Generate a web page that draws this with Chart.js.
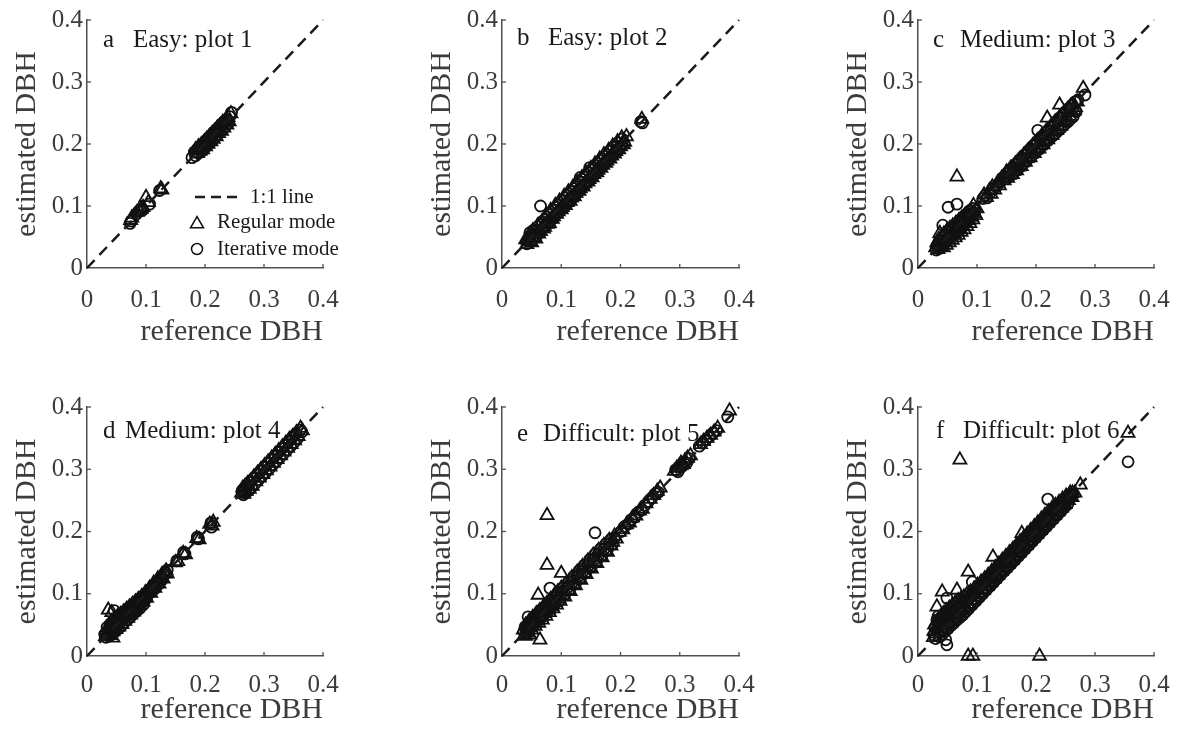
<!DOCTYPE html>
<html><head><meta charset="utf-8">
<script src="https://cdn.jsdelivr.net/npm/chart.js"></script>
<style>
html,body{margin:0;padding:0;background:#fff;width:1179px;height:730px;overflow:hidden;position:relative;}
canvas{position:absolute;}
</style></head><body>
<script>
// ---------- labels ----------
const tickValues = [0, 0.1, 0.2, 0.3, 0.4];
const tickLabels = ['0', '0.1', '0.2', '0.3', '0.4'];
const panelLetters = ['a', 'b', 'c', 'd', 'e', 'f'];
const panelTitles = ['Easy: plot 1', 'Easy: plot 2', 'Medium: plot 3', 'Medium: plot 4', 'Difficult: plot 5', 'Difficult: plot 6'];
const legendLabels = ['1:1 line', 'Regular mode', 'Iterative mode'];
const xTitle = 'reference DBH';
const yTitle = 'estimated DBH';
const oneToOne = [[0, 0], [0.4, 0.4]];

// ---------- data: [reference, estimated] ----------
const regularA = [[0.074,0.077],[0.076,0.081],[0.085,0.090],[0.088,0.093],[0.092,0.095],[0.095,0.098],[0.100,0.114],[0.104,0.106],[0.125,0.128],[0.127,0.126],
[0.184,0.191],[0.187,0.185],[0.189,0.196],[0.192,0.189],[0.194,0.199],[0.196,0.191],[0.199,0.204],[0.201,0.196],[0.203,0.208],[0.205,0.200],[0.208,0.213],[0.210,0.204],[0.212,0.217],[0.214,0.208],[0.217,0.221],[0.219,0.212],[0.221,0.226],[0.223,0.217],[0.226,0.230],[0.228,0.221],[0.230,0.235],[0.232,0.226],[0.235,0.239],[0.237,0.231],[0.239,0.243],[0.241,0.236],[0.244,0.249]];
const iterativeA = [[0.073,0.072],[0.075,0.076],[0.084,0.087],[0.087,0.091],[0.090,0.094],[0.094,0.093],[0.106,0.103],[0.123,0.125],
[0.178,0.178],[0.182,0.187],[0.184,0.181],[0.187,0.192],[0.189,0.185],[0.191,0.195],[0.194,0.188],[0.196,0.200],[0.198,0.192],[0.201,0.205],[0.203,0.197],[0.205,0.209],[0.207,0.201],[0.210,0.214],[0.212,0.205],[0.214,0.218],[0.216,0.210],[0.219,0.223],[0.221,0.214],[0.223,0.227],[0.225,0.219],[0.228,0.232],[0.230,0.223],[0.232,0.236],[0.234,0.228],[0.237,0.240],[0.239,0.233],[0.242,0.244],[0.245,0.251]];

const regularB = [[0.040,0.046],[0.042,0.038],[0.045,0.052],[0.047,0.043],[0.050,0.041],[0.052,0.060],[0.055,0.050],[0.057,0.047],[0.060,0.068],[0.062,0.055],[0.065,0.059],[0.067,0.074],[0.070,0.063],[0.072,0.066],[0.075,0.085],[0.077,0.071],[0.080,0.072],[0.082,0.093],[0.085,0.079],[0.087,0.083],[0.090,0.101],[0.092,0.087],[0.095,0.091],[0.097,0.108],[0.100,0.094],[0.102,0.098],[0.105,0.116],[0.107,0.101],[0.110,0.106],[0.112,0.123],[0.115,0.108],[0.117,0.113],[0.120,0.131],[0.122,0.115],[0.125,0.121],[0.127,0.138],[0.130,0.124],[0.132,0.128],[0.135,0.146],[0.137,0.131],[0.140,0.136],[0.142,0.153],[0.145,0.139],[0.147,0.143],[0.150,0.161],[0.152,0.146],[0.155,0.151],[0.157,0.168],[0.160,0.154],[0.162,0.158],[0.165,0.176],[0.167,0.161],[0.170,0.166],[0.172,0.183],[0.175,0.169],[0.177,0.173],[0.180,0.190],[0.182,0.176],[0.185,0.181],[0.187,0.197],[0.190,0.184],[0.192,0.188],[0.195,0.204],[0.197,0.191],[0.200,0.196],[0.202,0.210],[0.205,0.199],[0.207,0.203],[0.210,0.212],[0.236,0.240]];
const iterativeB = [[0.042,0.039],[0.044,0.045],[0.047,0.057],[0.048,0.050],[0.051,0.046],[0.053,0.061],[0.056,0.053],[0.058,0.051],[0.061,0.067],[0.063,0.057],[0.065,0.100],[0.066,0.062],[0.068,0.075],[0.071,0.066],[0.073,0.069],[0.076,0.082],[0.078,0.072],[0.081,0.076],[0.083,0.090],[0.086,0.080],[0.088,0.083],[0.091,0.098],[0.093,0.088],[0.096,0.090],[0.098,0.105],[0.101,0.096],[0.103,0.099],[0.106,0.113],[0.108,0.103],[0.111,0.105],[0.113,0.120],[0.116,0.111],[0.118,0.114],[0.121,0.128],[0.123,0.118],[0.126,0.120],[0.128,0.135],[0.131,0.126],[0.132,0.146],[0.133,0.128],[0.136,0.143],[0.138,0.133],[0.141,0.136],[0.143,0.150],[0.146,0.141],[0.148,0.162],[0.149,0.144],[0.151,0.158],[0.153,0.148],[0.156,0.151],[0.158,0.165],[0.161,0.156],[0.163,0.159],[0.166,0.173],[0.168,0.163],[0.171,0.166],[0.173,0.180],[0.176,0.171],[0.178,0.174],[0.181,0.188],[0.183,0.178],[0.186,0.181],[0.188,0.195],[0.191,0.186],[0.193,0.189],[0.196,0.202],[0.198,0.193],[0.201,0.197],[0.203,0.208],[0.206,0.201],[0.234,0.236],[0.237,0.234]];

const regularC = [[0.030,0.033],[0.032,0.041],[0.034,0.030],[0.035,0.046],[0.037,0.056],[0.038,0.035],[0.040,0.050],[0.041,0.040],[0.043,0.033],[0.044,0.055],[0.046,0.043],[0.048,0.037],[0.049,0.060],[0.051,0.048],[0.053,0.041],[0.054,0.064],[0.056,0.052],[0.058,0.045],[0.059,0.068],[0.061,0.056],[0.063,0.049],[0.064,0.072],[0.066,0.147],[0.066,0.060],[0.068,0.053],[0.069,0.076],[0.071,0.064],[0.073,0.058],[0.074,0.080],[0.076,0.068],[0.078,0.062],[0.079,0.084],[0.081,0.072],[0.083,0.067],[0.084,0.088],[0.086,0.077],[0.088,0.072],[0.089,0.092],[0.091,0.082],[0.093,0.078],[0.094,0.101],[0.096,0.088],[0.098,0.085],[0.100,0.096],
[0.112,0.118],[0.116,0.114],[0.121,0.125],[0.124,0.119],[0.126,0.131],[0.130,0.126],[0.135,0.138],[0.138,0.133],[0.142,0.145],[0.146,0.141],
[0.150,0.155],[0.152,0.145],[0.155,0.150],[0.157,0.161],[0.160,0.151],[0.162,0.156],[0.165,0.168],[0.167,0.157],[0.170,0.163],[0.172,0.175],[0.175,0.164],[0.177,0.170],[0.180,0.183],[0.182,0.171],[0.185,0.177],[0.187,0.190],[0.190,0.178],[0.192,0.184],[0.195,0.198],[0.197,0.185],[0.200,0.191],[0.202,0.205],[0.205,0.192],[0.207,0.198],[0.210,0.213],[0.212,0.199],[0.215,0.205],[0.217,0.220],[0.219,0.242],[0.220,0.207],[0.222,0.213],[0.225,0.227],[0.227,0.214],[0.230,0.220],[0.232,0.235],[0.235,0.222],[0.237,0.228],[0.240,0.263],[0.240,0.242],[0.242,0.229],[0.245,0.235],[0.247,0.249],[0.250,0.237],[0.252,0.243],[0.255,0.256],[0.257,0.245],[0.260,0.251],[0.262,0.263],[0.265,0.254],[0.267,0.259],[0.270,0.268],[0.280,0.290]];
const iterativeC = [[0.031,0.029],[0.033,0.036],[0.035,0.031],[0.036,0.043],[0.038,0.034],[0.040,0.038],[0.042,0.069],[0.042,0.049],[0.044,0.040],[0.046,0.044],[0.047,0.054],[0.049,0.044],[0.051,0.098],[0.051,0.048],[0.052,0.059],[0.054,0.049],[0.056,0.053],[0.057,0.064],[0.059,0.054],[0.061,0.057],[0.062,0.069],[0.064,0.058],[0.066,0.103],[0.066,0.062],[0.067,0.073],[0.069,0.063],[0.071,0.066],[0.072,0.078],[0.074,0.067],[0.076,0.071],[0.077,0.083],[0.079,0.072],[0.081,0.075],[0.082,0.087],[0.084,0.077],[0.086,0.080],[0.087,0.092],[0.089,0.082],[0.091,0.086],[0.093,0.096],[0.095,0.089],[0.097,0.093],
[0.110,0.112],[0.114,0.117],[0.117,0.113],[0.122,0.121],[0.128,0.129],[0.133,0.131],[0.139,0.138],[0.144,0.146],[0.148,0.147],
[0.151,0.153],[0.153,0.146],[0.156,0.158],[0.158,0.150],[0.161,0.163],[0.163,0.154],[0.166,0.168],[0.168,0.159],[0.171,0.173],[0.173,0.163],[0.176,0.178],[0.178,0.168],[0.181,0.183],[0.183,0.172],[0.186,0.188],[0.188,0.177],[0.191,0.193],[0.193,0.181],[0.196,0.198],[0.198,0.186],[0.201,0.203],[0.203,0.222],[0.203,0.190],[0.206,0.208],[0.208,0.195],[0.211,0.213],[0.213,0.199],[0.216,0.218],[0.218,0.204],[0.221,0.223],[0.223,0.208],[0.226,0.228],[0.228,0.213],[0.231,0.233],[0.233,0.217],[0.236,0.238],[0.238,0.222],[0.241,0.243],[0.243,0.226],[0.246,0.248],[0.248,0.231],[0.251,0.253],[0.253,0.235],[0.256,0.258],[0.258,0.240],[0.261,0.263],[0.263,0.244],[0.266,0.268],[0.268,0.252],[0.271,0.271],[0.283,0.279]];

const regularD = [[0.031,0.031],[0.033,0.042],[0.035,0.036],[0.036,0.074],[0.037,0.049],[0.039,0.033],[0.040,0.045],[0.042,0.070],[0.042,0.055],[0.044,0.029],[0.044,0.039],[0.046,0.050],[0.047,0.061],[0.049,0.043],[0.050,0.055],[0.052,0.064],[0.054,0.047],[0.055,0.058],[0.057,0.067],[0.059,0.051],[0.060,0.062],[0.062,0.071],[0.064,0.056],[0.065,0.066],[0.067,0.075],[0.069,0.061],[0.070,0.070],[0.072,0.079],[0.074,0.066],[0.075,0.075],[0.077,0.083],[0.079,0.071],[0.080,0.079],[0.082,0.087],[0.084,0.076],[0.085,0.084],[0.087,0.091],[0.089,0.081],[0.091,0.089],[0.093,0.096],[0.095,0.087],[0.097,0.095],[0.099,0.102],[0.101,0.093],[0.104,0.103],[0.106,0.109],[0.108,0.101],[0.111,0.111],[0.113,0.117],[0.115,0.109],[0.118,0.119],[0.120,0.124],[0.122,0.116],[0.125,0.126],[0.127,0.131],[0.129,0.124],[0.132,0.133],[0.134,0.137],[0.136,0.132],
[0.150,0.150],[0.154,0.152],[0.163,0.165],[0.167,0.163],[0.186,0.189],[0.190,0.187],[0.208,0.212],[0.212,0.209],[0.214,0.215],
[0.262,0.262],[0.264,0.270],[0.266,0.260],[0.268,0.273],[0.270,0.265],[0.272,0.277],[0.275,0.268],[0.277,0.281],[0.280,0.273],[0.283,0.288],[0.286,0.280],[0.289,0.294],[0.292,0.286],[0.295,0.300],[0.298,0.292],[0.301,0.306],[0.304,0.298],[0.307,0.312],[0.310,0.304],[0.313,0.318],[0.316,0.310],[0.319,0.324],[0.322,0.316],[0.325,0.330],[0.328,0.322],[0.331,0.336],[0.334,0.328],[0.337,0.342],[0.340,0.334],[0.343,0.348],[0.346,0.340],[0.349,0.353],[0.352,0.346],[0.355,0.359],[0.358,0.353],[0.362,0.366],[0.365,0.362]];
const iterativeD = [[0.030,0.035],[0.032,0.030],[0.034,0.046],[0.036,0.039],[0.038,0.032],[0.039,0.051],[0.041,0.042],[0.043,0.036],[0.044,0.056],[0.046,0.073],[0.046,0.046],[0.048,0.040],[0.049,0.060],[0.051,0.050],[0.053,0.044],[0.054,0.064],[0.056,0.054],[0.058,0.048],[0.059,0.068],[0.061,0.058],[0.063,0.053],[0.064,0.072],[0.066,0.063],[0.068,0.058],[0.069,0.076],[0.071,0.067],[0.073,0.062],[0.074,0.080],[0.076,0.071],[0.078,0.067],[0.080,0.084],[0.082,0.076],[0.084,0.072],[0.086,0.089],[0.088,0.081],[0.090,0.077],[0.092,0.094],[0.094,0.086],[0.096,0.083],[0.098,0.099],[0.101,0.093],[0.103,0.099],[0.106,0.106],[0.109,0.103],[0.112,0.111],[0.115,0.108],[0.118,0.118],[0.121,0.115],[0.124,0.125],[0.127,0.122],[0.130,0.131],[0.133,0.134],[0.136,0.138],
[0.152,0.153],[0.164,0.167],[0.166,0.164],[0.187,0.191],[0.189,0.188],[0.210,0.214],[0.211,0.207],
[0.263,0.266],[0.265,0.259],[0.267,0.270],[0.269,0.262],[0.271,0.274],[0.274,0.266],[0.276,0.279],[0.279,0.271],[0.282,0.285],[0.285,0.277],[0.288,0.291],[0.291,0.283],[0.294,0.297],[0.297,0.289],[0.300,0.303],[0.303,0.295],[0.306,0.309],[0.309,0.301],[0.312,0.315],[0.315,0.307],[0.318,0.321],[0.321,0.313],[0.324,0.327],[0.327,0.319],[0.330,0.333],[0.333,0.325],[0.336,0.339],[0.339,0.331],[0.342,0.345],[0.345,0.337],[0.348,0.351],[0.351,0.343],[0.354,0.357],[0.357,0.350],[0.361,0.363],[0.364,0.360]];

const regularE = [[0.076,0.226],[0.076,0.146],[0.100,0.133],[0.061,0.098],[0.040,0.032],[0.064,0.026],[0.047,0.034],
[0.036,0.042],[0.038,0.034],[0.040,0.050],[0.042,0.040],[0.044,0.037],[0.046,0.056],[0.048,0.046],[0.050,0.042],[0.052,0.062],[0.054,0.052],[0.056,0.048],[0.058,0.068],[0.060,0.058],[0.062,0.053],[0.064,0.073],[0.066,0.063],[0.068,0.058],[0.070,0.079],[0.072,0.069],[0.074,0.064],[0.076,0.085],[0.078,0.074],[0.080,0.070],[0.082,0.091],[0.084,0.080],[0.086,0.076],[0.088,0.097],[0.090,0.086],[0.092,0.082],[0.094,0.103],[0.096,0.092],[0.098,0.088],[0.100,0.109],[0.103,0.098],[0.106,0.095],[0.109,0.117],[0.112,0.106],[0.115,0.104],[0.118,0.126],[0.121,0.115],[0.124,0.113],[0.127,0.135],[0.130,0.124],[0.133,0.122],[0.136,0.144],[0.139,0.133],[0.142,0.131],[0.145,0.153],[0.148,0.142],[0.151,0.140],[0.154,0.162],[0.157,0.151],[0.160,0.149],[0.163,0.170],[0.166,0.160],[0.169,0.158],[0.172,0.178],[0.175,0.169],[0.178,0.167],[0.181,0.186],[0.184,0.177],[0.187,0.183],[0.190,0.193],[0.193,0.188],
[0.198,0.199],[0.204,0.203],[0.210,0.211],[0.215,0.214],[0.220,0.222],[0.226,0.225],[0.232,0.233],[0.237,0.236],[0.243,0.245],[0.250,0.252],[0.256,0.258],[0.262,0.265],[0.267,0.270],
[0.291,0.297],[0.295,0.302],[0.299,0.305],[0.302,0.310],[0.306,0.308],[0.309,0.314],[0.313,0.318],[0.318,0.322],
[0.335,0.340],[0.340,0.345],[0.346,0.350],[0.352,0.355],[0.358,0.360],[0.364,0.366],[0.384,0.394]];
const iterativeE = [[0.044,0.063],[0.081,0.109],[0.157,0.198],
[0.037,0.039],[0.039,0.047],[0.041,0.037],[0.043,0.044],[0.045,0.053],[0.047,0.043],[0.049,0.050],[0.051,0.059],[0.053,0.049],[0.055,0.056],[0.057,0.065],[0.059,0.054],[0.061,0.062],[0.063,0.071],[0.065,0.060],[0.067,0.067],[0.069,0.077],[0.071,0.066],[0.073,0.073],[0.075,0.082],[0.077,0.071],[0.079,0.079],[0.081,0.088],[0.083,0.077],[0.085,0.085],[0.087,0.094],[0.089,0.083],[0.091,0.091],[0.094,0.101],[0.097,0.090],[0.100,0.099],[0.103,0.110],[0.106,0.099],[0.109,0.108],[0.112,0.119],[0.115,0.108],[0.118,0.117],[0.121,0.128],[0.124,0.117],[0.127,0.126],[0.130,0.137],[0.133,0.126],[0.136,0.135],[0.139,0.146],[0.142,0.135],[0.145,0.144],[0.148,0.155],[0.151,0.144],[0.154,0.153],[0.157,0.164],[0.160,0.153],[0.163,0.162],[0.166,0.172],[0.169,0.162],[0.172,0.171],[0.175,0.180],[0.178,0.171],[0.181,0.180],[0.184,0.188],[0.187,0.180],[0.190,0.190],
[0.201,0.200],[0.207,0.208],[0.213,0.212],[0.218,0.219],[0.224,0.223],[0.230,0.231],[0.235,0.234],[0.241,0.242],[0.247,0.248],[0.253,0.254],[0.259,0.261],[0.264,0.263],
[0.293,0.299],[0.297,0.296],[0.301,0.303],[0.304,0.305],[0.308,0.311],[0.311,0.309],[0.316,0.317],
[0.333,0.337],[0.338,0.342],[0.344,0.347],[0.350,0.352],[0.356,0.358],[0.362,0.362],[0.381,0.384]];

const regularF = [[0.071,0.315],[0.356,0.358],[0.275,0.275],[0.176,0.197],[0.127,0.159],[0.085,0.135],[0.041,0.103],[0.066,0.106],[0.032,0.079],[0.085,0.000],[0.093,0.000],[0.206,0.000],
[0.026,0.030],[0.027,0.040],[0.028,0.050],[0.031,0.036],[0.032,0.046],[0.033,0.057],[0.036,0.040],[0.037,0.052],[0.038,0.063],[0.041,0.044],[0.042,0.057],[0.043,0.068],[0.046,0.049],[0.047,0.062],[0.048,0.073],[0.051,0.053],[0.052,0.066],[0.053,0.077],[0.056,0.057],[0.057,0.070],[0.058,0.081],[0.061,0.061],[0.062,0.074],[0.063,0.085],[0.066,0.065],[0.067,0.078],[0.068,0.089],[0.071,0.069],[0.072,0.082],[0.073,0.092],[0.076,0.073],[0.077,0.085],[0.078,0.095],[0.081,0.078],[0.082,0.089],[0.083,0.099],[0.087,0.083],[0.088,0.094],[0.089,0.103],[0.093,0.089],[0.094,0.099],[0.095,0.108],[0.099,0.095],[0.100,0.105],[0.101,0.114],[0.105,0.101],[0.106,0.111],[0.107,0.119],[0.111,0.106],[0.112,0.116],[0.113,0.124],[0.117,0.112],[0.118,0.122],[0.119,0.130],[0.123,0.118],[0.124,0.128],[0.125,0.136],[0.129,0.124],[0.130,0.134],[0.131,0.142],[0.135,0.130],[0.136,0.140],[0.137,0.148],[0.141,0.136],[0.142,0.146],[0.143,0.154],[0.147,0.142],[0.148,0.152],[0.149,0.160],[0.153,0.148],[0.154,0.158],[0.155,0.166],[0.159,0.154],[0.160,0.164],[0.161,0.172],[0.165,0.160],[0.166,0.170],[0.167,0.178],[0.171,0.166],[0.172,0.176],[0.173,0.184],[0.177,0.172],[0.178,0.182],[0.179,0.190],[0.183,0.178],[0.184,0.188],[0.185,0.196],[0.189,0.184],[0.190,0.194],[0.191,0.202],[0.195,0.190],[0.196,0.200],[0.197,0.208],[0.201,0.196],[0.202,0.206],[0.203,0.214],[0.207,0.202],[0.208,0.212],[0.209,0.220],[0.213,0.208],[0.214,0.218],[0.215,0.226],[0.219,0.214],[0.220,0.224],[0.221,0.232],[0.225,0.220],[0.226,0.230],[0.227,0.237],[0.231,0.226],[0.232,0.236],[0.233,0.242],[0.237,0.232],[0.238,0.242],[0.239,0.247],[0.243,0.238],[0.244,0.247],[0.245,0.252],[0.249,0.244],[0.250,0.252],[0.251,0.257],[0.255,0.250],[0.256,0.257],[0.258,0.262],[0.261,0.255],[0.262,0.262],[0.266,0.262]];
const iterativeF = [[0.356,0.312],[0.220,0.252],[0.092,0.119],[0.049,0.093],[0.032,0.058],[0.049,0.018],[0.047,0.026],[0.034,0.064],
[0.027,0.033],[0.029,0.045],[0.030,0.028],[0.034,0.038],[0.035,0.050],[0.036,0.031],[0.039,0.042],[0.040,0.055],[0.041,0.035],[0.044,0.047],[0.045,0.060],[0.046,0.040],[0.049,0.051],[0.050,0.064],[0.051,0.044],[0.054,0.055],[0.055,0.068],[0.056,0.049],[0.059,0.059],[0.060,0.072],[0.061,0.053],[0.064,0.063],[0.065,0.076],[0.066,0.058],[0.069,0.067],[0.070,0.080],[0.071,0.062],[0.074,0.071],[0.075,0.083],[0.076,0.066],[0.079,0.075],[0.080,0.087],[0.081,0.071],[0.084,0.080],[0.085,0.091],[0.086,0.076],[0.090,0.086],[0.091,0.097],[0.092,0.082],[0.096,0.092],[0.097,0.103],[0.098,0.088],[0.102,0.098],[0.103,0.109],[0.104,0.094],[0.108,0.104],[0.109,0.115],[0.110,0.100],[0.114,0.110],[0.115,0.121],[0.116,0.106],[0.120,0.116],[0.121,0.127],[0.122,0.112],[0.126,0.122],[0.127,0.133],[0.128,0.118],[0.132,0.128],[0.133,0.139],[0.134,0.124],[0.138,0.134],[0.139,0.145],[0.140,0.130],[0.144,0.140],[0.145,0.151],[0.146,0.136],[0.150,0.146],[0.151,0.157],[0.152,0.142],[0.156,0.152],[0.157,0.163],[0.158,0.148],[0.162,0.158],[0.163,0.169],[0.164,0.154],[0.168,0.164],[0.169,0.175],[0.170,0.160],[0.174,0.170],[0.175,0.181],[0.176,0.166],[0.180,0.176],[0.181,0.187],[0.182,0.172],[0.186,0.182],[0.187,0.193],[0.188,0.178],[0.192,0.188],[0.193,0.199],[0.194,0.184],[0.198,0.194],[0.199,0.205],[0.200,0.190],[0.204,0.200],[0.205,0.210],[0.206,0.196],[0.210,0.206],[0.211,0.216],[0.212,0.202],[0.216,0.212],[0.217,0.222],[0.218,0.208],[0.222,0.218],[0.223,0.228],[0.224,0.214],[0.228,0.224],[0.229,0.233],[0.230,0.220],[0.234,0.230],[0.235,0.239],[0.236,0.226],[0.240,0.236],[0.241,0.244],[0.242,0.232],[0.246,0.242],[0.247,0.250],[0.248,0.238],[0.252,0.248],[0.253,0.255],[0.254,0.244],[0.258,0.254],[0.259,0.260],[0.263,0.259]];

const regularSeries = [regularA, regularB, regularC, regularD, regularE, regularF];
const iterativeSeries = [iterativeA, iterativeB, iterativeC, iterativeD, iterativeE, iterativeF];

// ---------- layout / style (not data) ----------
const layouts = [
  {left: 87,  top: 20,  w: 236, h: 248, xh: 82, tp: 17, lx: 16, tx: 46, ly: 27, legend: true},
  {left: 502, top: 20,  w: 237, h: 248, xh: 82, tp: 17, lx: 15, tx: 46, ly: 25},
  {left: 918, top: 20,  w: 236, h: 248, xh: 82, tp: 17, lx: 15, tx: 42, ly: 27},
  {left: 87,  top: 407, w: 236, h: 249, xh: 72, tp: 14, lx: 16, tx: 38, ly: 31},
  {left: 502, top: 407, w: 237, h: 249, xh: 72, tp: 14, lx: 15, tx: 41, ly: 34},
  {left: 918, top: 407, w: 236, h: 249, xh: 72, tp: 14, lx: 18, tx: 45, ly: 31}
];
const YW = 87, PADT = 20, PADR = 20;
const FONT = '"Liberation Serif", "Times New Roman", serif';
const AXIS_COLOR = '#505050';
const TEXT_COLOR = '#3c3c3c';
const MARK_COLOR = '#111111';
const TRI_R = 7.5, CIR_R = 5.5, MARK_W = 1.8;

Chart.defaults.font.family = FONT;

const toXY = arr => arr.map(p => ({x: p[0], y: p[1]}));

const decor = {
  id: 'decor',
  afterDraw(chart) {
    const cfg = chart.options.plugins.decor;
    const ctx = chart.ctx, xs = chart.scales.x, ys = chart.scales.y;
    ctx.save();
    // inward tick marks
    ctx.strokeStyle = AXIS_COLOR; ctx.lineWidth = 1.3;
    tickValues.forEach(v => {
      if (v === 0) return;
      const px = xs.getPixelForValue(v);
      ctx.beginPath(); ctx.moveTo(px, ys.bottom); ctx.lineTo(px, ys.bottom - 4); ctx.stroke();
      const py = ys.getPixelForValue(v);
      ctx.beginPath(); ctx.moveTo(xs.left, py); ctx.lineTo(xs.left + 4, py); ctx.stroke();
    });
    // panel label
    ctx.fillStyle = '#1a1a1a';
    ctx.font = '25px ' + FONT;
    ctx.textAlign = 'left'; ctx.textBaseline = 'alphabetic';
    const L = cfg.layout;
    ctx.fillText(cfg.letter, xs.left + L.lx, ys.top + L.ly);
    ctx.fillText(cfg.title, xs.left + L.tx, ys.top + L.ly);
    // legend
    if (L.legend) {
      const ox = xs.left, oy = ys.top;
      ctx.strokeStyle = '#1a1a1a'; ctx.lineWidth = 2.5; ctx.setLineDash([10, 6]);
      ctx.beginPath(); ctx.moveTo(ox + 108, oy + 177); ctx.lineTo(ox + 152, oy + 177); ctx.stroke();
      ctx.setLineDash([]);
      ctx.strokeStyle = MARK_COLOR; ctx.lineWidth = 1.5;
      const tx = ox + 110, ty = oy + 204;
      ctx.beginPath();
      ctx.moveTo(tx, ty - TRI_R);
      ctx.lineTo(tx - TRI_R * Math.sin(2 * Math.PI / 3), ty + TRI_R / 2);
      ctx.lineTo(tx + TRI_R * Math.sin(2 * Math.PI / 3), ty + TRI_R / 2);
      ctx.closePath(); ctx.stroke();
      ctx.beginPath(); ctx.arc(ox + 110, oy + 229, CIR_R, 0, Math.PI * 2); ctx.stroke();
      ctx.fillStyle = '#1a1a1a';
      ctx.font = '21px ' + FONT;
      ctx.fillText(legendLabels[0], ox + 163, oy + 183);
      ctx.fillText(legendLabels[1], ox + 130, oy + 208);
      ctx.fillText(legendLabels[2], ox + 130, oy + 235);
    }
    ctx.restore();
  }
};

layouts.forEach((L, i) => {
  const c = document.createElement('canvas');
  const cw = YW + L.w + PADR, ch = PADT + L.h + L.xh;
  c.width = cw; c.height = ch;
  c.style.width = cw + 'px'; c.style.height = ch + 'px';
  c.style.left = (L.left - YW) + 'px'; c.style.top = (L.top - PADT) + 'px';
  document.body.appendChild(c);

  const tickCb = v => {
    const k = tickValues.findIndex(t => Math.abs(t - v) < 1e-9);
    return k >= 0 ? tickLabels[k] : '';
  };

  new Chart(c, {
    type: 'scatter',
    data: {
      datasets: [
        {label: legendLabels[0], data: toXY(oneToOne), showLine: true, borderColor: '#1a1a1a', borderWidth: 2.5,
         borderDash: [11, 7], pointRadius: 0, fill: false, clip: false},
        {label: legendLabels[1], data: toXY(regularSeries[i]), pointStyle: 'triangle', pointRadius: TRI_R,
         borderColor: MARK_COLOR, backgroundColor: 'rgba(0,0,0,0)', borderWidth: MARK_W, clip: false},
        {label: legendLabels[2], data: toXY(iterativeSeries[i]), pointStyle: 'circle', pointRadius: CIR_R,
         borderColor: MARK_COLOR, backgroundColor: 'rgba(0,0,0,0)', borderWidth: MARK_W, clip: false}
      ]
    },
    options: {
      responsive: false, animation: false, events: [],
      layout: {padding: {left: 0, top: PADT, right: PADR, bottom: 0}},
      plugins: {
        legend: {display: false}, tooltip: {enabled: false},
        decor: {letter: panelLetters[i], title: panelTitles[i], layout: L}
      },
      scales: {
        x: {
          type: 'linear', min: 0, max: 0.4,
          grid: {display: false, drawTicks: false},
          border: {display: true, color: AXIS_COLOR, width: 1.5},
          ticks: {stepSize: 0.1, autoSkip: false, maxRotation: 0, minRotation: 0, padding: L.tp,
                  color: TEXT_COLOR, font: {size: 25, family: FONT}, callback: tickCb},
          title: {display: true, text: xTitle, align: 'end', color: TEXT_COLOR,
                  font: {size: 30, family: FONT}, padding: {top: 0, bottom: 0}},
          afterFit: s => { s.height = L.xh; s.paddingLeft = 0; s.paddingRight = 0; }
        },
        y: {
          type: 'linear', min: 0, max: 0.4,
          grid: {display: false, drawTicks: false},
          border: {display: true, color: AXIS_COLOR, width: 1.5},
          ticks: {stepSize: 0.1, autoSkip: false, padding: 4,
                  color: TEXT_COLOR, font: {size: 25, family: FONT}, callback: tickCb},
          title: {display: true, text: yTitle, align: 'center', color: TEXT_COLOR,
                  font: {size: 30, family: FONT}, padding: {top: 9, bottom: 0}},
          afterFit: s => { s.width = YW; s.paddingTop = 0; s.paddingBottom = 0; }
        }
      }
    },
    plugins: [decor]
  });
});
</script>
</body></html>
